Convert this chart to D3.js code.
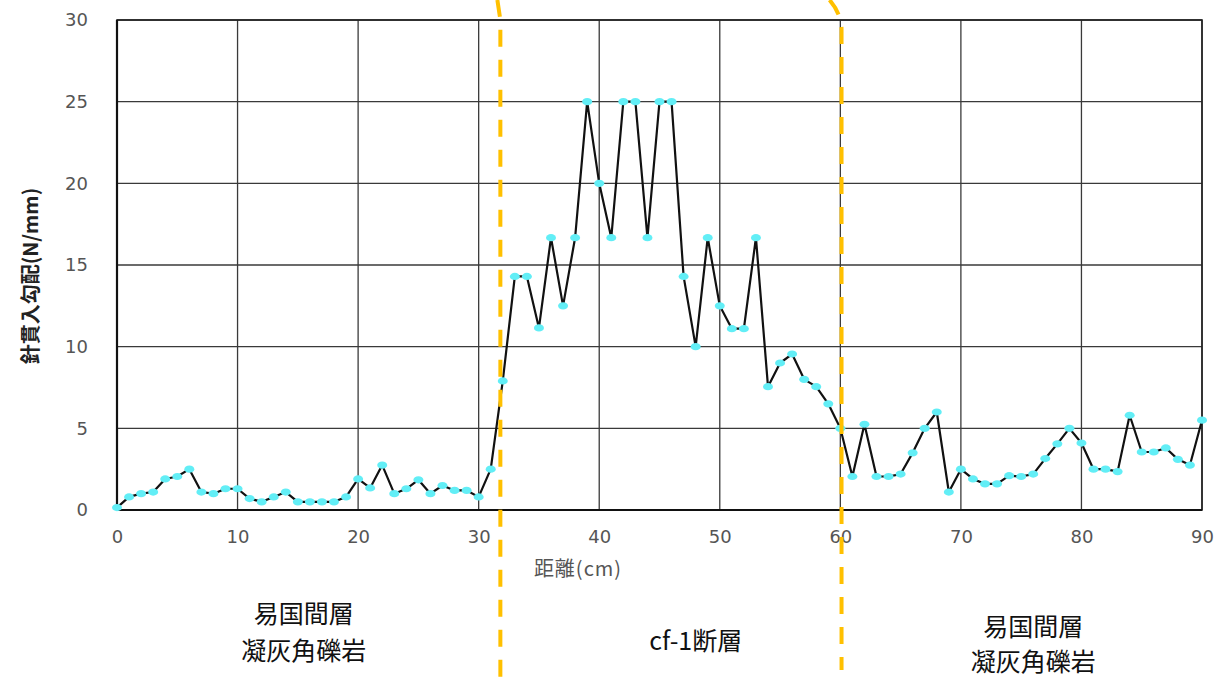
<!DOCTYPE html>
<html>
<head>
<meta charset="utf-8">
<script src="https://cdn.jsdelivr.net/npm/d3@7"></script>
<style>
  html, body { margin: 0; padding: 0; background: #fff; }
  svg { display: block; }
</style>
</head>
<body>
<svg id="chart" width="1217" height="678"></svg>
<script>
// Needle penetration gradient measured every 1 cm along the traverse
const distance = d3.range(0, 91);
const gradient = [
  0.15, 0.8, 1.0, 1.1, 1.9, 2.05, 2.5, 1.1, 1.0, 1.3,
  1.3, 0.7, 0.5, 0.8, 1.1, 0.5, 0.5, 0.5, 0.5, 0.8,
  1.9, 1.35, 2.75, 1.0, 1.3, 1.85, 1.0, 1.5, 1.2, 1.2,
  0.8, 2.5, 7.9, 14.3, 14.3, 11.15, 16.67, 12.5, 16.67, 25,
  20, 16.67, 25, 25, 16.67, 25, 25, 14.3, 10.0, 16.67,
  12.5, 11.1, 11.1, 16.67, 7.55, 9.0, 9.55, 8.0, 7.55, 6.5,
  5.0, 2.05, 5.25, 2.05, 2.05, 2.2, 3.5, 5.0, 6.0, 1.1,
  2.5, 1.9, 1.6, 1.6, 2.1, 2.05, 2.2, 3.15, 4.05, 5.0,
  4.1, 2.5, 2.5, 2.35, 5.8, 3.55, 3.55, 3.8, 3.1, 2.75,
  5.5
];
const xTicks = [0, 10, 20, 30, 40, 50, 60, 70, 80, 90];
const yTicks = [0, 5, 10, 15, 20, 25, 30];
const zoneBounds = [31.8, 60.1];
const zoneLabels = [
  { lines: ["易国間層", "凝灰角礫岩"], at: 15.5, y: [614, 651] },
  { lines: ["cf-1断層"], at: 48.0, y: [641] },
  { lines: ["易国間層", "凝灰角礫岩"], at: 76.0, y: [627, 662] }
];
const xTitle = "距離(cm)";
const yTitle = "針貫入勾配(N/mm)";

const svg = d3.select("#chart");
const m = { left: 117, right: 1202, top: 20, bottom: 510 };
const x = d3.scaleLinear().domain([0, 90]).range([m.left, m.right]);
const y = d3.scaleLinear().domain([0, 30]).range([m.bottom, m.top]);

const font = "'DejaVu Sans', 'Liberation Sans', sans-serif";
const cjk = "'Noto Sans CJK JP', 'Noto Sans', sans-serif";

// grid
const grid = svg.append("g");
grid.selectAll("line.v").data(xTicks).join("line")
  .attr("x1", d => x(d)).attr("x2", d => x(d))
  .attr("y1", m.top).attr("y2", m.bottom)
  .attr("stroke", "#3a3a3a").attr("stroke-width", 1.3);
grid.selectAll("line.h").data(yTicks).join("line")
  .attr("x1", m.left).attr("x2", m.right)
  .attr("y1", d => y(d)).attr("y2", d => y(d))
  .attr("stroke", "#3a3a3a").attr("stroke-width", 1.3);

// frame
svg.append("rect")
  .attr("x", m.left).attr("y", m.top)
  .attr("width", m.right - m.left).attr("height", m.bottom - m.top)
  .attr("fill", "none").attr("stroke", "#222").attr("stroke-width", 1.6);
svg.append("line").attr("x1", m.left).attr("x2", m.left)
  .attr("y1", m.top).attr("y2", m.bottom).attr("stroke", "#111").attr("stroke-width", 2.2);
svg.append("line").attr("x1", m.left).attr("x2", m.right)
  .attr("y1", m.bottom).attr("y2", m.bottom).attr("stroke", "#111").attr("stroke-width", 2.2);

// axes (labels only)
const xAxis = svg.append("g").attr("transform", `translate(0,${m.bottom})`)
  .call(d3.axisBottom(x).tickValues(xTicks).tickSize(0).tickPadding(20));
const yAxis = svg.append("g").attr("transform", `translate(${m.left},0)`)
  .call(d3.axisLeft(y).tickValues(yTicks).tickSize(0).tickPadding(29));
[xAxis, yAxis].forEach(a => {
  a.select(".domain").remove();
  a.selectAll("text").attr("fill", "#555").style("font-family", font).style("font-size", "18px");
});

// data line and markers
const pts = distance.map((d, i) => ({ d, v: gradient[i] }));
svg.append("path").datum(pts)
  .attr("fill", "none").attr("stroke", "#111").attr("stroke-width", 2.2)
  .attr("stroke-linejoin", "round")
  .attr("d", d3.line().x(p => x(p.d)).y(p => y(p.v)));
svg.append("g").selectAll("ellipse").data(pts).join("ellipse")
  .attr("cx", p => x(p.d)).attr("cy", p => y(p.v))
  .attr("rx", 5).attr("ry", 3.6)
  .attr("fill", "#62eef6");

// zone boundaries
const dash = { stroke: "#ffc000", width: 4, pattern: "17,13" };
svg.append("path")
  .attr("d", `M${x(zoneBounds[0]) - 3},0 L${x(zoneBounds[0])},${m.top} L${x(zoneBounds[0])},678`)
  .attr("fill", "none").attr("stroke", dash.stroke).attr("stroke-width", dash.width)
  .attr("stroke-dasharray", dash.pattern);
svg.append("path")
  .attr("d", `M${x(zoneBounds[1]) - 12},0 Q${x(zoneBounds[1])},${m.top - 6} ${x(zoneBounds[1])},${m.top + 10} L${x(zoneBounds[1])},670`)
  .attr("fill", "none").attr("stroke", dash.stroke).attr("stroke-width", dash.width)
  .attr("stroke-dasharray", dash.pattern);

// axis titles
svg.append("text").text(xTitle)
  .attr("x", 578).attr("y", 576).attr("text-anchor", "middle")
  .attr("fill", "#555").style("font-family", cjk).style("font-size", "20px")
  .style("letter-spacing", "1px");
svg.append("text").text(yTitle)
  .attr("transform", "translate(38,276) rotate(-90)")
  .attr("text-anchor", "middle").attr("fill", "#222")
  .style("font-family", cjk).style("font-size", "20px").style("font-weight", "bold");

// zone labels
zoneLabels.forEach(z => {
  z.lines.forEach((t, i) => {
    svg.append("text").text(t)
      .attr("x", x(z.at)).attr("y", z.y[i] + 9)
      .attr("text-anchor", "middle").attr("fill", "#111")
      .style("font-family", cjk).style("font-size", "25px");
  });
});
</script>
</body>
</html>
